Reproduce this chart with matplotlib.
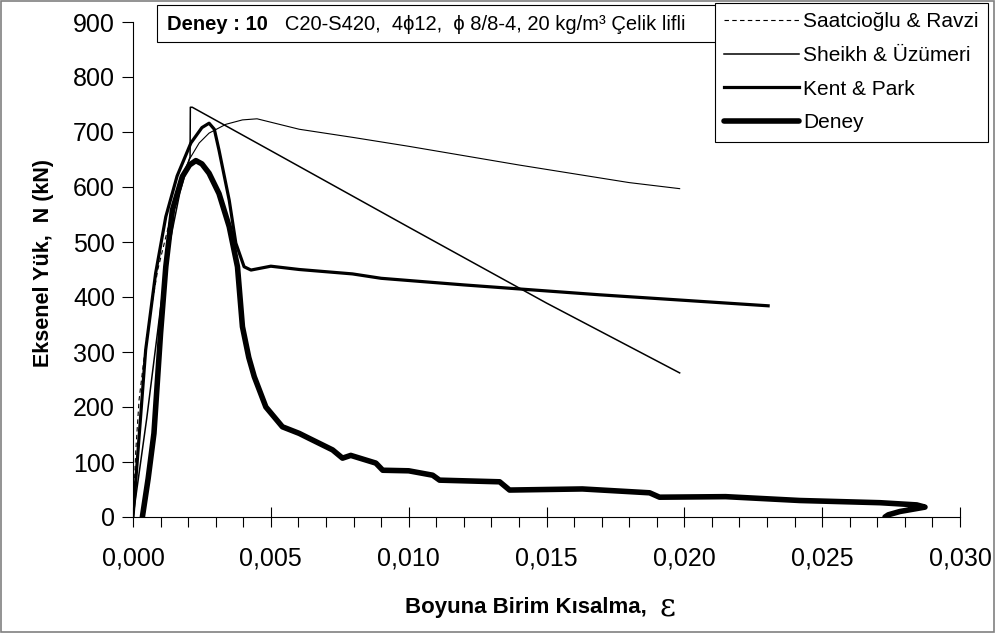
import numpy as np
import matplotlib.pyplot as plt
from matplotlib.ticker import MultipleLocator, FuncFormatter
from matplotlib.patches import Rectangle

plt.rcParams['font.family'] = ['Liberation Sans', 'DejaVu Sans']

# Saatcioglu & Ravzi
sr_x = [0.0, 0.0001, 0.00022, 0.0005, 0.0009, 0.00143, 0.00175, 0.00203, 0.0024, 0.00276,
        0.00337, 0.00397, 0.0045, 0.00603, 0.008, 0.010, 0.012, 0.014, 0.016, 0.018, 0.01983]
sr_y = [0, 120, 213, 330, 450, 558, 615, 649, 680, 698,
        714, 722, 724, 705, 690, 674, 657, 640, 624, 608, 597]
sr_split = 6  # dashed part near origin

# Sheikh & Uzumeri
su_x = [0.0, 0.0005, 0.001, 0.0013, 0.0017, 0.00207, 0.00208, 0.00215, 0.005, 0.010, 0.015, 0.01983]
su_y = [0, 180, 380, 490, 590, 655, 745, 745, 666, 527, 389, 262]

# Kent & Park
kp_x = [0.0, 0.00046, 0.00082, 0.00119, 0.0016, 0.0021, 0.0025, 0.00276, 0.00295, 0.00312,
        0.00349, 0.00373, 0.00403, 0.00428, 0.0050, 0.00603, 0.00796, 0.009, 0.0120, 0.01693, 0.02304]
kp_y = [0, 304, 443, 546, 620, 680, 708, 716, 705, 667,
        576, 498, 455, 449, 456, 450, 442, 434, 422, 404, 384]

# Deney
d_x = [0.00034, 0.00055, 0.00076, 0.001, 0.00119, 0.00143, 0.00179, 0.00205, 0.00228, 0.0025,
       0.00276, 0.00312, 0.00349, 0.00379, 0.00397, 0.0042, 0.0044, 0.00482, 0.00542, 0.00603,
       0.00639, 0.00724, 0.0076, 0.0079, 0.00881, 0.00906, 0.0100, 0.01087, 0.01112, 0.0133,
       0.01366, 0.0163, 0.01874, 0.0191, 0.0215, 0.02419, 0.0271, 0.02843, 0.02873, 0.02782,
       0.0274, 0.02728]
d_y = [0, 70, 152, 334, 455, 558, 619, 640, 648, 642,
       625, 588, 528, 455, 346, 290, 255, 200, 164, 152,
       143, 122, 107, 112, 98, 85, 84, 76, 67, 64,
       49, 51, 44, 36, 37, 30, 26, 22, 18, 10,
       4, 0]

fig = plt.figure(figsize=(9.96, 6.33), dpi=100)
ax = fig.add_axes([133/996, 1-517/633, (960-133)/996, (517-22)/633])

ax.plot(sr_x[:sr_split], sr_y[:sr_split], color='black', lw=0.8, ls=(0, (4, 3)),
        label='Saatcioğlu & Ravzi')
ax.plot(sr_x[sr_split-1:], sr_y[sr_split-1:], color='black', lw=0.8)
ax.plot(su_x, su_y, color='black', lw=1.1, label='Sheikh & Üzümeri')
ax.plot(kp_x, kp_y, color='black', lw=2.3, label='Kent & Park')
ax.plot(d_x, d_y, color='black', lw=4.0, label='Deney', solid_capstyle='round')

ax.set_xlim(0, 0.030)
ax.set_ylim(0, 900)
ax.xaxis.set_major_locator(MultipleLocator(0.005))
ax.xaxis.set_minor_locator(MultipleLocator(0.001))
ax.yaxis.set_major_locator(MultipleLocator(100))
ax.xaxis.set_major_formatter(FuncFormatter(lambda v, p: ('%.3f' % v).replace('.', ',')))
ax.tick_params(axis='x', which='major', direction='inout', length=14, width=0.8,
               labelsize=18, pad=14)
ax.tick_params(axis='x', which='minor', direction='out', length=7, width=0.8)
ax.tick_params(axis='y', which='major', direction='out', length=8, width=0.8,
               labelsize=18, pad=5)
ax.spines['top'].set_visible(False)
ax.spines['right'].set_visible(False)
for s in ['left', 'bottom']:
    ax.spines[s].set_linewidth(0.8)

fig.text(44/996, 1-263/633, 'Eksenel Yük,  N (kN)', fontsize=15.5, fontweight='bold',
         rotation=90, ha='center', va='center')
xl = fig.text(405/996, 1-607/633, 'Boyuna Birim Kısalma,', fontsize=16, fontweight='bold',
              ha='left', va='center')
ax.annotate('ε', xy=(1, 0.5), xycoords=xl, xytext=(9, 0), textcoords='offset points',
            fontsize=22, ha='left', va='center', family=['DejaVu Serif'],
            annotation_clip=False)

# info box at top
box = Rectangle((157/996, 1-42/633), 620/996, 37/633, transform=fig.transFigure,
                facecolor='white', edgecolor='black', lw=0.8, zorder=4, clip_on=False)
ax.add_artist(box)
t1 = ax.text(167/996, 1-24/633, 'Deney : 10', transform=fig.transFigure, fontsize=14.5,
             fontweight='bold', va='center', ha='left', zorder=4.5, clip_on=False)
ax.annotate('   C20-S420,  4ϕ12,  ϕ 8/8-4, 20 kg/m³ Çelik lifli', xy=(1, 0.5),
            xycoords=t1, va='center', ha='left', fontsize=14.5, zorder=4.5,
            annotation_clip=False)

leg = ax.legend(loc='upper right', bbox_to_anchor=(988/996, 1-3/633),
                bbox_transform=fig.transFigure, borderaxespad=0, fancybox=False,
                edgecolor='black', framealpha=1, fontsize=15, handlelength=3.6,
                handletextpad=0.2, labelspacing=0.7, borderpad=0.45)
leg.get_frame().set_linewidth(0.8)
leg.set_zorder(6)

fig.patches.append(Rectangle((0.001, 0.001), 0.997, 0.997, transform=fig.transFigure,
                             fill=False, edgecolor='#808080', lw=1.2))

fig.savefig('out.png', dpi=100)
